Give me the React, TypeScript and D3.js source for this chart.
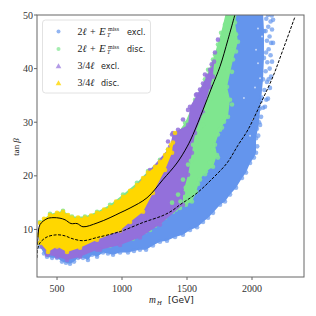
import React from "react";
import * as d3 from "d3";

type P = [number, number];

const xTicks = [500, 1000, 1500, 2000];
const yTicks = [10, 20, 30, 40, 50];

const blueOutline: P[] = [[354,9],[369,6.8],[400,5.5],[423,4.9],[462,4.7],[500,4.7],[538,4],[569,3.8],[600,3.6],[631,4],[662,4.7],[700,4.7],[738,4.3],[769,5.3],[808,4.9],[854,5.7],[892,5.5],[931,5.3],[985,5.7],[1046,5.7],[1092,6],[1138,6.2],[1185,6.2],[1238,7],[1292,7.7],[1346,7.9],[1408,8.6],[1469,9],[1523,9.9],[1577,10.4],[1623,11.4],[1662,12.2],[1700,13.1],[1754,14.6],[1792,15.2],[1831,16.5],[1877,17.8],[1923,19.6],[1954,20.6],[1985,22.4],[2015,23.4],[2031,24.3],[2031,27],[2054,30],[2069,34],[2085,38],[2092,42],[2092,47],[2085,50.5],[1877,50.5],[1792,41.5],[1677,32],[1523,22],[1292,15],[985,10],[662,8]];
const blueFringe: P[] = [[2040,25.5],[2048,27.5],[2038,28.8],[2062,29.5],[2070,31],[2058,32.5],[2085,32.7],[2100,32.9],[2075,34.6],[2110,34.2],[2123,34.4],[2095,36],[2138,36.4],[2115,37.5],[2128,38],[2146,38.5],[2105,39.5],[2136,40],[2154,41.3],[2118,41.2],[2143,42.5],[2108,43],[2128,43.6],[2162,44.8],[2147,44.8],[2115,45.2],[2135,46],[2154,47.3],[2105,47],[2125,47.8],[2162,49.1],[2143,48.8],[2110,49.3],[2123,50],[2152,49.9]];
const blueHoles: P[] = [[2031,43.5],[2046,41],[1938,34.5],[2008,30.5],[2023,36.5],[2062,38.2],[2077,46],[1985,27.5],[2046,47.5]];
const greenOutline: P[] = [[1800,50.5],[1762,46.7],[1700,41.7],[1638,38],[1562,34.2],[1485,29.9],[1408,27.3],[1354,24.9],[1292,23],[1200,20.9],[1115,18.7],[1008,16.5],[908,14.6],[808,13.3],[715,12.4],[615,12.4],[546,13.5],[446,12.9],[369,11.4],[385,7.1],[908,7],[985,7.5],[1085,8.3],[1215,9.9],[1292,11.4],[1392,13.3],[1446,14],[1538,15.2],[1569,17],[1600,19.3],[1646,20.8],[1700,21.7],[1731,23.9],[1715,25.8],[1754,28.6],[1815,31],[1831,34.2],[1808,36.6],[1854,41.7],[1892,45],[1869,48.6],[1885,50.5]];
const greenFringe: P[] = [[1854,47.3],[1877,46.4],[1838,43.5],[1877,43.2],[1815,39.8],[1846,39.4],[1800,35.1],[1846,33.3],[1785,30.1],[1769,29],[1738,27.7],[1700,24.9],[1738,23.4],[1677,22.5],[1638,20.3],[1585,18.5],[1546,16.5],[1492,14.6],[1415,13.7],[1331,12.2],[1254,10.7],[1177,9.6],[1792,48.2],[1738,44.5],[1715,42.6],[1662,39.8]];
const greenOverPurple: P[] = [[1638,31.4],[1600,29],[1546,25.8],[1508,22.1],[1469,19.3],[1431,16.5],[1385,15],[1677,34.2],[1708,37.6],[1623,29.5],[1585,26.5],[1530,22.8],[1490,17.8],[1450,15.2]];
const purpleOutline: P[] = [[1708,41.3],[1677,39.8],[1600,36.1],[1523,32.9],[1508,29.5],[1392,28],[1369,25.4],[1215,21.1],[908,12.8],[369,9.9],[385,6.8],[423,5.3],[500,4.9],[577,4.3],[677,4.9],[808,6.2],[831,6.2],[985,7.1],[1138,8.5],[1292,10.9],[1469,14.6],[1469,16.8],[1508,20.2],[1538,24.3],[1562,28],[1623,31.8],[1677,36.6],[1700,38.5]];
const purpleFringe: P[] = [[1738,45.4],[1715,43],[1690,40.8],[1654,38.6],[1623,37.2],[1577,35.2],[1638,38.9],[1569,35.1],[1508,32.3],[1469,30.5],[1431,28.6],[1385,27.7],[1354,26.4]];
const yellowOutline: P[] = [[369,11.2],[400,12],[446,12.7],[500,13.1],[546,13.3],[585,12.7],[615,12.2],[662,12.2],[715,12.2],[762,12.6],[808,13.1],[862,13.7],[908,14.2],[954,15.2],[1008,16.1],[1062,17.2],[1115,18.3],[1162,19.6],[1200,20.6],[1254,21.7],[1292,22.6],[1331,23.9],[1354,24.9],[1392,26.2],[1385,24.3],[1331,21.1],[1238,16.8],[1162,13.3],[1062,11.4],[985,9.8],[808,8.1],[677,6.6],[577,5.8],[500,6.8],[431,5.8],[369,7.5],[354,9]];
const yellowFringe: P[] = [[1408,28],[1377,25.8],[1354,24.3]];

const solidLine: P[] = [[350,7.1],[354,8.8],[369,10.9],[423,12],[469,12.2],[523,12.1],[562,11.8],[608,11.1],[654,11.1],[700,10.5],[808,11.2],[908,12.2],[985,13.1],[1062,14],[1192,15.9],[1315,19.3],[1423,22.4],[1500,25.4],[1546,27.7],[1623,32.3],[1692,36.6],[1754,40.4],[1815,45.4],[1869,50.1]];
const dashedLine: P[] = [[346,4.7],[350,6.2],[369,7.5],[423,8.6],[500,9],[562,8.8],[615,8.3],[700,7.9],[808,8.5],[985,9.6],[1162,11.3],[1315,12.6],[1385,13.5],[1446,14.6],[1577,16.8],[1700,19.6],[1808,22.4],[1892,25.7],[1969,28.6],[2069,33.6],[2161,38.5],[2238,43.5],[2331,49.7]];

const BLUE = "#6495ed";
const GREEN = "#7fe68f";
const PURPLE = "#9370db";
const GOLD = "#ffd700";

const margin = { left: 37, right: 304, top: 15, bottom: 277 };
const x = d3.scaleLinear().domain([346, 2400]).range([margin.left, margin.right]);
const y = d3.scaleLinear().domain([1.13, 50]).range([margin.bottom, margin.top]);
const curve = d3.line<P>().x((d) => x(d[0])).y((d) => y(d[1]));
const smooth = d3.line<P>().x((d) => x(d[0])).y((d) => y(d[1])).curve(d3.curveCatmullRom);

const layers = [
  { color: BLUE, outline: blueOutline, fringe: blueFringe, op: 0.7 },
  { color: GREEN, outline: greenOutline, fringe: greenFringe, op: 0.85 },
  { color: PURPLE, outline: purpleOutline, fringe: purpleFringe, op: 0.85 },
  { color: GREEN, outline: [] as P[], fringe: greenOverPurple, op: 0.9 },
  { color: GOLD, outline: yellowOutline, fringe: yellowFringe, op: 0.85 },
];

const serif = "'Liberation Serif', serif";
const sans = "'DejaVu Sans', sans-serif";

function Label2l({ px, py, word }: { px: number; py: number; word: string }) {
  return (
    <g fill="#222">
      <text x={px} y={py} fontFamily={serif} fontSize={10}>
        2<tspan fontStyle="italic">ℓ</tspan>
      </text>
      <text x={px + 12.5} y={py} fontFamily={serif} fontSize={10}>+</text>
      <text x={px + 21.5} y={py} fontFamily={serif} fontSize={11} fontStyle="italic">E</text>
      <text x={px + 30.5} y={py - 3.5} fontFamily={serif} fontSize={6}>miss</text>
      <text x={px + 29.5} y={py + 2} fontFamily={serif} fontSize={6} fontStyle="italic">T</text>
      <text x={px + 49.5} y={py} fontFamily={sans} fontSize={8}>{word}</text>
    </g>
  );
}

function Label34({ px, py, word }: { px: number; py: number; word: string }) {
  return (
    <g fill="#222">
      <text x={px} y={py} fontFamily={serif} fontSize={10}>
        3/4<tspan fontStyle="italic">ℓ</tspan>
      </text>
      <text x={px + 23.5} y={py} fontFamily={sans} fontSize={8}>{word}</text>
    </g>
  );
}

export default function App() {
  return (
    <svg width={316} height={316} style={{ position: "absolute", left: 0, top: 0, background: "#fff" }}>
      <defs>
        <clipPath id="plot">
          <rect x={margin.left} y={margin.top} width={margin.right - margin.left} height={margin.bottom - margin.top} />
        </clipPath>
      </defs>
      <g clipPath="url(#plot)">
        {layers.map((l, i) => (
          <g key={i}>
            {l.outline.length > 0 && <path d={curve(l.outline)! + "Z"} fill={l.color} />}
            {[...l.outline, ...l.fringe].map((d, j) => (
              <circle key={j} cx={x(d[0])} cy={y(d[1])} r={2.3} fill={l.color} opacity={l.op} />
            ))}
            {i === 0 && blueHoles.map((d, j) => (
              <circle key={j} cx={x(d[0])} cy={y(d[1])} r={1} fill="#fff" opacity={0.6} />
            ))}
          </g>
        ))}
        <path d={smooth(solidLine)!} fill="none" stroke="#000" strokeWidth={1} />
        <path d={smooth(dashedLine)!} fill="none" stroke="#000" strokeWidth={1} strokeDasharray="3 1.5" />
      </g>
      <rect x={margin.left} y={margin.top} width={margin.right - margin.left} height={margin.bottom - margin.top} fill="none" stroke="#666" strokeWidth={1} />
      {xTicks.map((t) => (
        <g key={t}>
          <line x1={x(t)} x2={x(t)} y1={margin.bottom} y2={margin.bottom + 3} stroke="#666" />
          <text x={x(t)} y={292} textAnchor="middle" fontFamily={serif} fontSize={10} fill="#333">{t}</text>
        </g>
      ))}
      {yTicks.map((t) => (
        <g key={t}>
          <line x1={margin.left - 3} x2={margin.left} y1={y(t)} y2={y(t)} stroke="#666" />
          <text x={33} y={y(t) + 3.5} textAnchor="end" fontFamily={serif} fontSize={10} fill="#333">{t}</text>
        </g>
      ))}
      <text transform="translate(19,147) rotate(-90)" textAnchor="middle" fontFamily={serif} fontSize={9} fill="#222">
        tan <tspan fontStyle="italic">β</tspan>
      </text>
      <text x={149} y={303} fontFamily={serif} fontSize={9.5} fontStyle="italic" fill="#222">m</text>
      <text x={157} y={305} fontFamily={serif} fontSize={6.5} fontStyle="italic" fill="#222">H</text>
      <text x={168} y={303} fontFamily={sans} fontSize={9} fill="#222">[GeV]</text>

      <rect x={42.5} y={20} width={108} height={73} rx={3} fill="#fff" fillOpacity={0.85} stroke="#e2e2e2" strokeWidth={1} />
      <circle cx={58.5} cy={31.5} r={2} fill={BLUE} opacity={0.7} />
      <circle cx={58.5} cy={49} r={2} fill={GREEN} opacity={0.7} />
      <path d={d3.symbol(d3.symbolTriangle, 14)()!} transform="translate(58.5,66.5)" fill={PURPLE} opacity={0.7} />
      <path d={d3.symbol(d3.symbolTriangle, 14)()!} transform="translate(58.5,83.5)" fill={GOLD} opacity={0.8} />
      <Label2l px={77.5} py={34.5} word="excl." />
      <Label2l px={77.5} py={52} word="disc." />
      <Label34 px={77.5} py={69} word="excl." />
      <Label34 px={77.5} py={86} word="disc." />
    </svg>
  );
}
